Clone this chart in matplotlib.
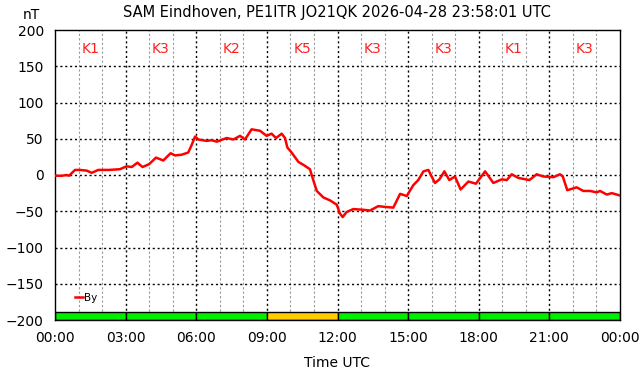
import matplotlib
matplotlib.use('Agg')
from matplotlib import pyplot as plt
import numpy as np

# Set global font
plt.rcParams['font.family'] = 'DejaVu Sans'
plt.rcParams['font.size'] = 10

# By trace (hours UTC, nT)
hours = [0.0, 0.3, 0.5, 0.6, 0.85, 1.06, 1.35, 1.56, 1.84, 2.3, 2.76, 3.04, 3.26, 3.5,
         3.72, 4.0, 4.29, 4.6, 4.91, 5.1, 5.38, 5.66, 5.8, 5.95, 6.09, 6.44, 6.65, 6.87,
         7.29, 7.58, 7.86, 8.07, 8.35, 8.71, 8.99, 9.2, 9.39, 9.63, 9.77, 9.87, 10.05,
         10.34, 10.55, 10.83, 10.97, 11.12, 11.4, 11.68, 11.97, 12.1, 12.22, 12.39, 12.67,
         13.1, 13.38, 13.73, 14.02, 14.37, 14.66, 14.94, 15.22, 15.43, 15.65, 15.86, 16.14,
         16.33, 16.54, 16.75, 16.99, 17.23, 17.56, 17.88, 18.27, 18.62, 18.98, 19.19, 19.4,
         19.68, 20.15, 20.46, 20.74, 21.17, 21.45, 21.57, 21.76, 22.16, 22.44, 22.73, 23.01,
         23.15, 23.44, 23.65, 23.97]
by_nt = [-1, -1, 0, -1, 7, 7, 6, 3, 7, 7, 8, 12, 11, 17,
         11, 15, 24, 20, 30, 27, 28, 31, 41, 53, 49, 47, 48, 46,
         51, 49, 54, 49, 63, 61, 54, 57, 51, 57, 51, 38, 31,
         18, 14, 8, -7, -22, -31, -35, -41, -53, -58, -51, -47,
         -48, -49, -43, -44, -45, -26, -29, -14, -7, 5, 7, -11,
         -6, 5, -7, -2, -20, -9, -12, 5, -11, -6, -7, 1,
         -4, -7, 1, -2, -3, 1, -2, -21, -17, -22, -22, -24,
         -22, -27, -25, -28]

# K index per 3-hour block
k_labels = ['K1', 'K3', 'K2', 'K5', 'K3', 'K3', 'K1', 'K3']
k_values = [1, 3, 2, 5, 3, 3, 1, 3]

tick_labels = ['00:00', '03:00', '06:00', '09:00', '12:00', '15:00', '18:00', '21:00', '00:00']

fig = plt.figure(figsize=(6.42, 3.76), dpi=100)
ax = fig.add_axes([55 / 642, 1 - 320 / 376, 565 / 642, 290 / 376])

# grid lines
for h in range(1, 24):
    if h % 3 != 0:
        ax.axvline(h, color='#999999', linestyle=(0, (2, 2)), linewidth=0.8, zorder=1)
for h in range(3, 24, 3):
    ax.axvline(h, color='black', linestyle=(0, (1.5, 2)), linewidth=1.0, zorder=1)
for v in range(-150, 200, 50):
    ax.axhline(v, color='black', linestyle=(0, (1.5, 2)), linewidth=1.0, zorder=1)

# K bars along the bottom
for i, k in enumerate(k_values):
    col = '#ffcc00' if k >= 5 else ('#ffff00' if k == 4 else '#00ee00')
    ax.bar(i * 3, 11, width=3, bottom=-200, align='edge', color=col, edgecolor='black',
           linewidth=1.0, zorder=2)
    ax.text(i * 3 + 1.5, 174, k_labels[i], color='#ff2020', ha='center', va='center',
            fontsize=10, zorder=3)

ax.plot(hours, by_nt, color='#ff0000', linewidth=1.8, label='By', zorder=4)

ax.set_xlim(0, 24)
ax.set_ylim(-200, 200)
ax.set_xticks(range(0, 25, 3))
ax.set_xticklabels(tick_labels)
ax.set_yticks(range(-200, 201, 50))
ax.tick_params(length=0, pad=8, labelsize=10)
for s in ax.spines.values():
    s.set_linewidth(1.0)

ax.legend(loc='lower left', bbox_to_anchor=(0.022, 0.035), frameon=False, fontsize=7.5,
          handlelength=0.8, handletextpad=0.1, borderpad=0.2)

fig.text(337 / 642, 1 - 12 / 376, 'SAM Eindhoven, PE1ITR JO21QK 2026-04-28 23:58:01 UTC',
         ha='center', va='center', fontsize=10.5)
fig.text(31 / 642, 1 - 15 / 376, 'nT', ha='center', va='center', fontsize=10)
ax.set_xlabel('Time UTC', fontsize=10, labelpad=8)

plt.savefig('out.png', dpi=100)
plt.close()
